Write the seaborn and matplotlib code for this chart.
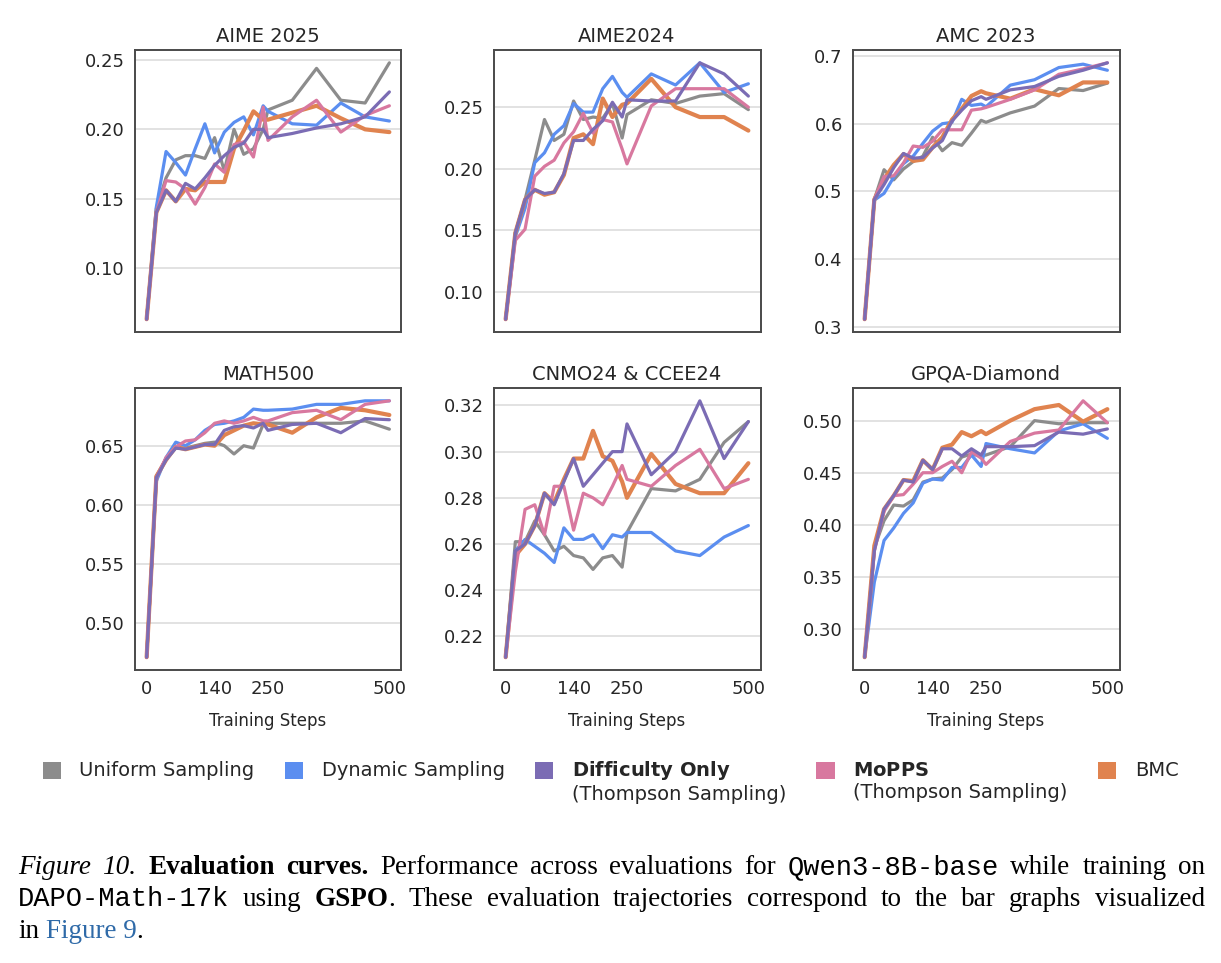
import matplotlib
matplotlib.use("Agg")
import matplotlib.pyplot as plt
from matplotlib.patches import Patch
import seaborn as sns

# evaluation steps (x) and tick positions
steps = [0, 20, 40, 60, 80, 100, 120, 140, 160, 180, 200, 220, 240, 250, 300, 350, 400, 450, 500]
x_ticks = [0, 140, 250, 500]

methods = ["Uniform Sampling", "Dynamic Sampling", "Difficulty Only", "MoPPS", "BMC"]

# AIME 2025
aime25_uniform = [0.063, 0.143, 0.165, 0.178, 0.181, 0.181, 0.179, 0.194, 0.170, 0.200, 0.182, 0.186, 0.200, 0.214, 0.221, 0.244, 0.221, 0.219, 0.248]
aime25_dynamic = [0.063, 0.144, 0.184, 0.176, 0.167, 0.186, 0.204, 0.183, 0.198, 0.205, 0.209, 0.196, 0.217, 0.213, 0.204, 0.203, 0.219, 0.209, 0.206]
aime25_difficulty = [0.063, 0.140, 0.156, 0.148, 0.161, 0.157, 0.165, 0.174, 0.181, 0.187, 0.190, 0.200, 0.200, 0.194, 0.197, 0.201, 0.204, 0.209, 0.227]
aime25_mopps = [0.063, 0.140, 0.163, 0.162, 0.157, 0.146, 0.158, 0.175, 0.169, 0.189, 0.191, 0.180, 0.216, 0.192, 0.209, 0.221, 0.198, 0.210, 0.217]
aime25_bmc = [0.063, 0.140, 0.156, 0.148, 0.157, 0.156, 0.162, 0.162, 0.162, 0.186, 0.199, 0.213, 0.207, 0.207, 0.212, 0.217, 0.208, 0.200, 0.198]

# AIME 2024
aime24_uniform = [0.078, 0.148, 0.175, 0.207, 0.240, 0.223, 0.228, 0.255, 0.240, 0.242, 0.241, 0.253, 0.225, 0.244, 0.256, 0.253, 0.259, 0.261, 0.248]
aime24_dynamic = [0.078, 0.145, 0.168, 0.205, 0.213, 0.228, 0.235, 0.253, 0.246, 0.246, 0.265, 0.275, 0.262, 0.258, 0.277, 0.268, 0.286, 0.262, 0.269]
aime24_difficulty = [0.078, 0.148, 0.175, 0.183, 0.180, 0.181, 0.196, 0.223, 0.223, 0.232, 0.239, 0.254, 0.242, 0.256, 0.255, 0.255, 0.286, 0.277, 0.259]
aime24_mopps = [0.078, 0.142, 0.151, 0.194, 0.202, 0.207, 0.221, 0.230, 0.245, 0.229, 0.240, 0.238, 0.216, 0.204, 0.251, 0.265, 0.265, 0.265, 0.250]
aime24_bmc = [0.078, 0.148, 0.175, 0.183, 0.179, 0.181, 0.195, 0.225, 0.228, 0.220, 0.257, 0.242, 0.252, 0.253, 0.273, 0.250, 0.242, 0.242, 0.231]

# AMC 2023
amc_uniform = [0.311, 0.488, 0.532, 0.517, 0.533, 0.544, 0.552, 0.580, 0.560, 0.572, 0.568, 0.586, 0.605, 0.602, 0.616, 0.626, 0.652, 0.649, 0.660]
amc_dynamic = [0.311, 0.487, 0.497, 0.521, 0.541, 0.552, 0.571, 0.589, 0.600, 0.602, 0.636, 0.627, 0.629, 0.625, 0.657, 0.665, 0.683, 0.688, 0.679]
amc_difficulty = [0.311, 0.488, 0.510, 0.535, 0.556, 0.549, 0.550, 0.564, 0.575, 0.604, 0.620, 0.634, 0.640, 0.636, 0.650, 0.655, 0.670, 0.679, 0.690]
amc_mopps = [0.311, 0.488, 0.522, 0.523, 0.542, 0.567, 0.565, 0.574, 0.591, 0.591, 0.591, 0.620, 0.622, 0.624, 0.636, 0.650, 0.673, 0.681, 0.690]
amc_bmc = [0.311, 0.488, 0.518, 0.539, 0.555, 0.545, 0.547, 0.565, 0.580, 0.606, 0.622, 0.641, 0.648, 0.645, 0.637, 0.651, 0.642, 0.661, 0.661]

# MATH500
math_uniform = [0.471, 0.624, 0.639, 0.648, 0.648, 0.650, 0.652, 0.653, 0.650, 0.643, 0.650, 0.648, 0.668, 0.669, 0.669, 0.669, 0.669, 0.671, 0.664]
math_dynamic = [0.471, 0.620, 0.640, 0.653, 0.650, 0.655, 0.663, 0.668, 0.669, 0.671, 0.674, 0.681, 0.680, 0.680, 0.681, 0.685, 0.685, 0.688, 0.688]
math_difficulty = [0.471, 0.623, 0.638, 0.648, 0.647, 0.649, 0.651, 0.651, 0.663, 0.666, 0.667, 0.665, 0.669, 0.663, 0.668, 0.669, 0.661, 0.673, 0.672]
math_mopps = [0.471, 0.623, 0.640, 0.649, 0.654, 0.655, 0.661, 0.669, 0.671, 0.669, 0.671, 0.674, 0.671, 0.671, 0.678, 0.680, 0.672, 0.685, 0.688]
math_bmc = [0.471, 0.624, 0.638, 0.649, 0.647, 0.649, 0.651, 0.650, 0.659, 0.663, 0.667, 0.669, 0.668, 0.668, 0.661, 0.674, 0.682, 0.680, 0.676]

# CNMO24 & CCEE24
cnmo_uniform = [0.211, 0.261, 0.261, 0.270, 0.264, 0.257, 0.259, 0.255, 0.254, 0.249, 0.254, 0.255, 0.250, 0.265, 0.284, 0.283, 0.288, 0.304, 0.313]
cnmo_dynamic = [0.211, 0.257, 0.262, 0.259, 0.256, 0.252, 0.267, 0.262, 0.262, 0.264, 0.258, 0.264, 0.263, 0.265, 0.265, 0.257, 0.255, 0.263, 0.268]
cnmo_difficulty = [0.211, 0.257, 0.260, 0.268, 0.282, 0.277, 0.287, 0.297, 0.285, 0.290, 0.295, 0.300, 0.300, 0.312, 0.290, 0.300, 0.322, 0.297, 0.313]
cnmo_mopps = [0.211, 0.248, 0.275, 0.277, 0.264, 0.285, 0.285, 0.266, 0.282, 0.280, 0.277, 0.285, 0.294, 0.288, 0.285, 0.294, 0.301, 0.284, 0.288]
cnmo_bmc = [0.211, 0.255, 0.260, 0.268, 0.282, 0.278, 0.288, 0.297, 0.297, 0.309, 0.298, 0.296, 0.287, 0.280, 0.299, 0.286, 0.282, 0.282, 0.295]

# GPQA-Diamond
gpqa_uniform = [0.273, 0.378, 0.404, 0.419, 0.418, 0.424, 0.441, 0.444, 0.445, 0.453, 0.465, 0.468, 0.466, 0.467, 0.475, 0.500, 0.497, 0.498, 0.498]
gpqa_dynamic = [0.273, 0.345, 0.385, 0.397, 0.411, 0.421, 0.440, 0.444, 0.443, 0.455, 0.455, 0.467, 0.456, 0.478, 0.473, 0.469, 0.490, 0.497, 0.483]
gpqa_difficulty = [0.273, 0.375, 0.415, 0.428, 0.443, 0.441, 0.462, 0.453, 0.473, 0.473, 0.466, 0.473, 0.467, 0.475, 0.475, 0.476, 0.489, 0.487, 0.492]
gpqa_mopps = [0.273, 0.375, 0.413, 0.428, 0.429, 0.439, 0.450, 0.450, 0.456, 0.461, 0.450, 0.470, 0.464, 0.458, 0.480, 0.488, 0.491, 0.519, 0.498]
gpqa_bmc = [0.273, 0.380, 0.415, 0.428, 0.443, 0.442, 0.462, 0.453, 0.474, 0.477, 0.489, 0.485, 0.490, 0.487, 0.500, 0.511, 0.515, 0.499, 0.511]

# y tick values per panel
aime25_yticks = [0.10, 0.15, 0.20, 0.25]
aime24_yticks = [0.10, 0.15, 0.20, 0.25]
amc_yticks = [0.3, 0.4, 0.5, 0.6, 0.7]
math_yticks = [0.50, 0.55, 0.60, 0.65]
cnmo_yticks = [0.22, 0.24, 0.26, 0.28, 0.30, 0.32]
gpqa_yticks = [0.30, 0.35, 0.40, 0.45, 0.50]

panels = [
    ("AIME 2025", [aime25_uniform, aime25_dynamic, aime25_difficulty, aime25_mopps, aime25_bmc], aime25_yticks, "{:.2f}"),
    ("AIME2024", [aime24_uniform, aime24_dynamic, aime24_difficulty, aime24_mopps, aime24_bmc], aime24_yticks, "{:.2f}"),
    ("AMC 2023", [amc_uniform, amc_dynamic, amc_difficulty, amc_mopps, amc_bmc], amc_yticks, "{:.1f}"),
    ("MATH500", [math_uniform, math_dynamic, math_difficulty, math_mopps, math_bmc], math_yticks, "{:.2f}"),
    ("CNMO24 & CCEE24", [cnmo_uniform, cnmo_dynamic, cnmo_difficulty, cnmo_mopps, cnmo_bmc], cnmo_yticks, "{:.2f}"),
    ("GPQA-Diamond", [gpqa_uniform, gpqa_dynamic, gpqa_difficulty, gpqa_mopps, gpqa_bmc], gpqa_yticks, "{:.2f}"),
]

colors = ["#8c8c8c", "#5b8ef0", "#7b6cb4", "#d8789f", "#e0834f"]
widths = [2.3, 2.3, 2.3, 2.3, 3.0]
zorders = [2, 3, 6, 5, 4]

sns.set_theme(style="white", rc={
    "axes.edgecolor": "#4a4a4a",
    "axes.linewidth": 1.4,
    "grid.color": "#e2e2e2",
    "grid.linewidth": 1.4,
    "text.color": "#262626",
    "xtick.color": "#262626",
    "ytick.color": "#262626",
})
plt.rcParams["font.family"] = ["DejaVu Sans"]
plt.rcParams["mathtext.fontset"] = "dejavusans"

W, H = 1221, 963
fig = plt.figure(figsize=(W / 100, H / 100), dpi=100)

col_left = [134.5, 493.5, 852.5]
row_top = [50, 388]
ax_w, ax_h = 267, 282

for i, (title, series, yticks, fmt) in enumerate(panels):
    r, c = divmod(i, 3)
    ax = fig.add_axes([col_left[c] / W, 1 - (row_top[r] + ax_h) / H, ax_w / W, ax_h / H])
    for k, vals in enumerate(series):
        sns.lineplot(x=steps, y=vals, ax=ax, color=colors[k], linewidth=widths[k],
                     zorder=zorders[k], legend=False)
    ax.set_title(title, fontsize=14, pad=6)
    ax.set_yticks(yticks)
    ax.set_yticklabels([fmt.format(v) for v in yticks])
    ax.set_xticks(x_ticks)
    ax.yaxis.grid(True)
    ax.xaxis.grid(False)
    ax.set_axisbelow(True)
    ax.tick_params(length=0, labelsize=13, pad=7)
    if r == 0:
        ax.tick_params(labelbottom=False)
    else:
        ax.set_xlabel("Training Steps", fontsize=12, labelpad=10)

# legend: every label gets two lines so the first lines line up
handles = [Patch(facecolor=col, edgecolor="none") for col in colors]
labels = [
    "Uniform Sampling\n ",
    "Dynamic Sampling\n ",
    r"$\mathbf{Difficulty\ Only}$" + "\n(Thompson Sampling)",
    r"$\mathbf{MoPPS}$" + "\n(Thompson Sampling)",
    "BMC\n ",
]
leg = fig.legend(handles, labels, loc="upper center", bbox_to_anchor=(0.5, 1 - 741 / H), ncol=5,
                 frameon=False, fontsize=14, handlelength=0.95, handleheight=0.95,
                 handletextpad=0.95, columnspacing=1.55)
# lift the squares to the first text line
for p in leg.legend_handles:
    p.set_y(p.get_y() + 8.3)

# caption (justified, mixed fonts)
styles = {
    "rm": dict(family="Liberation Serif"),
    "it": dict(family="Liberation Serif", style="italic"),
    "bf": dict(family="Liberation Serif", weight="bold"),
    "tt": dict(family="Liberation Mono"),
    "link": dict(family="Liberation Serif", color="#2f6aa8"),
}
caption = [
    [[("Figure", "it")], [("10.", "it")], [("Evaluation", "bf")], [("curves.", "bf")],
     [("Performance", "rm")], [("across", "rm")], [("evaluations", "rm")], [("for", "rm")],
     [("Qwen3-8B-base", "tt")], [("while", "rm")], [("training", "rm")], [("on", "rm")]],
    [[("DAPO-Math-17k", "tt")], [("using", "rm")], [("GSPO", "bf"), (".", "rm")],
     [("These", "rm")], [("evaluation", "rm")], [("trajectories", "rm")], [("correspond", "rm")],
     [("to", "rm")], [("the", "rm")], [("bar", "rm")], [("graphs", "rm")], [("visualized", "rm")]],
    [[("in", "rm")], [("Figure 9", "link"), (".", "rm")]],
]
cap_size = 19.5
cap_x0, cap_x1 = 18, 1205
cap_base = [874, 906, 938]

renderer = fig.canvas.get_renderer()
space_px = 0.25 * cap_size * 100 / 72
for li, words in enumerate(caption):
    y = 1 - cap_base[li] / H
    items = []
    total = 0
    for word in words:
        runs = []
        ww = 0
        for s, st in word:
            kw = dict(styles[st])
            col = kw.pop("color", "black")
            t = fig.text(0, y, s, fontsize=cap_size, va="baseline", ha="left", color=col, **kw)
            w = t.get_window_extent(renderer).width
            runs.append((t, w))
            ww += w
        items.append(runs)
        total += ww
    justify = li < len(caption) - 1
    gap = (cap_x1 - cap_x0 - total) / (len(items) - 1) if justify else space_px
    x = cap_x0
    for runs in items:
        for t, w in runs:
            t.set_x(x / W)
            x += w
        x += gap

fig.savefig("out.png", dpi=100)
